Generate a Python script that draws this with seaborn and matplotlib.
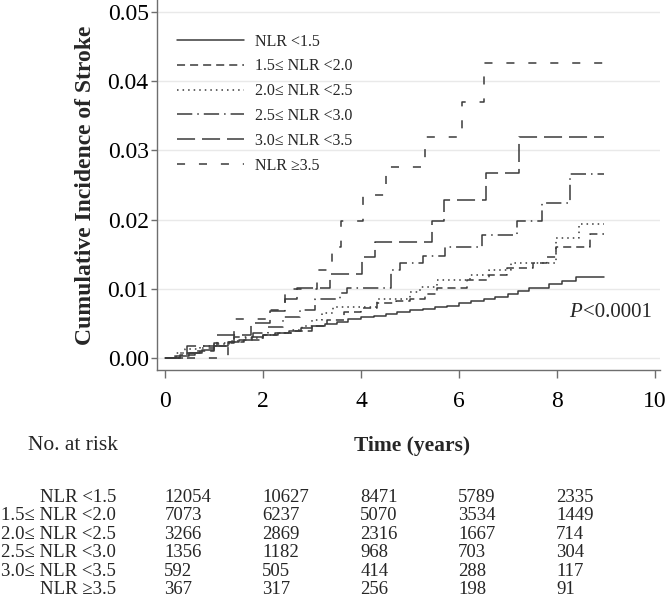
import matplotlib
matplotlib.use("Agg")
import matplotlib.pyplot as plt
import seaborn as sns
import pandas as pd

# groups and at-risk table
groups = ['NLR <1.5', '1.5≤ NLR <2.0', '2.0≤ NLR <2.5',
          '2.5≤ NLR <3.0', '3.0≤ NLR <3.5', 'NLR ≥3.5']
risk_times = [0, 2, 4, 6, 8]
risk_lt15 = [12054, 10627, 8471, 5789, 2335]
risk_15_20 = [7073, 6237, 5070, 3534, 1449]
risk_20_25 = [3266, 2869, 2316, 1667, 714]
risk_25_30 = [1356, 1182, 968, 703, 304]
risk_30_35 = [592, 505, 414, 288, 117]
risk_ge35 = [367, 317, 256, 198, 91]

# cumulative incidence step points
t_lt15 = [0, 0.22, 0.48, 0.74, 1.0, 1.27, 1.5, 1.76, 2.0, 2.24, 2.52, 2.77, 3.0, 3.26, 3.5,
          3.73, 4.0, 4.27, 4.5, 4.74, 5.0, 5.27, 5.5, 5.76, 6.0, 6.24, 6.5, 6.73, 7.0, 7.2,
          7.42, 7.83, 8.1, 8.38]
ci_lt15 = [0, 0.0003, 0.0007, 0.0012, 0.0018, 0.0023, 0.0027, 0.0030, 0.0033, 0.0036, 0.0039,
           0.0043, 0.0046, 0.0050, 0.0053, 0.0056, 0.0059, 0.0061, 0.0064, 0.0066, 0.0069,
           0.0071, 0.0074, 0.0076, 0.0079, 0.0082, 0.0086, 0.0089, 0.0093, 0.0097, 0.0102,
           0.0107, 0.0111, 0.0117]

t_15_20 = [0, 0.3, 0.6, 1.0, 1.3, 1.6, 2.0, 2.3, 2.6, 3.0, 3.3, 3.64, 4.0, 4.32, 4.7, 5.0,
           5.3, 5.55, 6.16, 6.6, 6.98, 7.5, 7.8, 7.97, 8.68]
ci_15_20 = [0, 0.0004, 0.0010, 0.0018, 0.0023, 0.0027, 0.0033, 0.0036, 0.0040, 0.0046, 0.0055,
            0.0067, 0.0073, 0.0079, 0.0083, 0.0086, 0.0093, 0.0101, 0.0113, 0.0120, 0.0130,
            0.0138, 0.0146, 0.0161, 0.0179]

t_20_25 = [0, 0.2, 0.4, 0.7, 1.0, 1.3, 1.6, 2.0, 2.3, 2.6, 2.8, 3.0, 3.2, 3.43, 4.32, 5.0,
           5.21, 5.55, 6.23, 6.6, 7.05, 7.97, 8.45]
ci_20_25 = [0, 0.0007, 0.0013, 0.0017, 0.0021, 0.0025, 0.0029, 0.0034, 0.0037, 0.0041, 0.0047,
            0.0055, 0.0065, 0.0074, 0.0086, 0.0095, 0.0103, 0.0113, 0.0120, 0.0127, 0.0138,
            0.0173, 0.0194]

t_25_30 = [0, 0.3, 0.7, 1.0, 1.4, 1.8, 2.1, 2.4, 2.75, 3.05, 3.57, 3.71, 4.6, 4.8, 5.27, 5.72,
           6.47, 7.19, 7.70, 8.27]
ci_25_30 = [0, 0.0007, 0.0015, 0.0022, 0.0030, 0.0037, 0.0045, 0.0060, 0.0070, 0.0086, 0.0094,
            0.0101, 0.0127, 0.0137, 0.0147, 0.0161, 0.0178, 0.0198, 0.0224, 0.0266]

t_30_35 = [0, 0.45, 1.05, 1.75, 2.14, 2.45, 2.69, 3.37, 4.02, 4.29, 5.45, 5.69, 6.54, 7.22]
ci_30_35 = [0, 0.0017, 0.0034, 0.0051, 0.0068, 0.0085, 0.0102, 0.0121, 0.0146, 0.0168, 0.0198,
            0.0229, 0.0268, 0.0320]

t_ge35 = [0, 1.29, 1.41, 2.14, 2.45, 3.10, 3.40, 3.59, 4.04, 4.51, 5.31, 6.05, 6.50]
ci_ge35 = [0, 0.0027, 0.0057, 0.0070, 0.0100, 0.0127, 0.0161, 0.0198, 0.0236, 0.0276, 0.0320,
           0.0370, 0.0426]

end_time = [8.95, 8.95, 8.95, 8.95, 8.95, 8.95]

curves = [(t_lt15, ci_lt15), (t_15_20, ci_15_20), (t_20_25, ci_20_25),
          (t_25_30, ci_25_30), (t_30_35, ci_30_35), (t_ge35, ci_ge35)]
risks = [risk_lt15, risk_15_20, risk_20_25, risk_25_30, risk_30_35, risk_ge35]

# long table, last value carried to the end of follow-up
rows = []
for g, (ts, cs), te in zip(groups, curves, end_time):
    for t, c in zip(ts + [te], cs + [cs[-1]]):
        rows.append({'group': g, 'time': t, 'ci': c})
df = pd.DataFrame(rows)

sns.set_theme(style='white')
plt.rcParams['font.family'] = ['Liberation Serif', 'DejaVu Serif']
plt.rcParams['lines.scale_dashes'] = False

line_col = '#3a3a3a'
axis_col = '#6e6e6e'
dash_map = {
    groups[0]: '',
    groups[1]: (5.8, 3.6),
    groups[2]: (1.1, 2.9),
    groups[3]: (11, 3.6, 1.1, 3.6),
    groups[4]: (13, 5),
    groups[5]: (5.8, 10),
}

fig = plt.figure(figsize=(6.68, 6.04), dpi=100)
ax = fig.add_axes([0.235, 0.3874, 0.753, 0.6126])

sns.lineplot(data=df, x='time', y='ci', hue='group', style='group', hue_order=groups,
             style_order=groups, palette=[line_col] * 6, dashes=dash_map,
             estimator=None, drawstyle='steps-post', linewidth=1.1, ax=ax)

ax.set_xlim(-0.17, 10.1)
ax.set_ylim(-0.0017, 0.0517)
ax.set_xticks([0, 2, 4, 6, 8, 10])
ax.set_yticks([0, 0.01, 0.02, 0.03, 0.04, 0.05])
ax.set_yticklabels(['0.00', '0.01', '0.02', '0.03', '0.04', '0.05'])
ax.yaxis.grid(True, color='#e9e9e9', linewidth=1)
ax.set_axisbelow(True)

for side in ['top', 'right']:
    ax.spines[side].set_visible(False)
for side in ['left', 'bottom']:
    ax.spines[side].set_color(axis_col)
    ax.spines[side].set_linewidth(1)
ax.tick_params(axis='y', direction='out', length=4, width=1, color=axis_col,
               labelsize=17, pad=2, left=True, labelcolor='black')
ax.tick_params(axis='x', direction='out', length=6, width=1, color=axis_col,
               labelsize=17, pad=9, bottom=True, labelcolor='black')

ax.set_xlabel('')
ax.set_ylabel('Cumulative Incidence of Stroke', fontsize=17, fontweight='bold', labelpad=8)

handles, labels = ax.get_legend_handles_labels()
ax.legend(handles, labels, loc='upper left', bbox_to_anchor=(0.011, 0.948), frameon=False,
          fontsize=11.5, handlelength=4.2, handletextpad=0.7, labelspacing=0.55)

ax.text(8.25, 0.0066, 'P', fontsize=15, style='italic', ha='left', va='center')
ax.text(8.53, 0.0066, '<0.0001', fontsize=15, ha='left', va='center')

# number at risk table below the axis
fig.text(28 / 668, 1 - 446 / 604, 'No. at risk', fontsize=15.5, ha='left', va='center')
fig.text(412 / 668, 1 - 446 / 604, 'Time (years)', fontsize=15.5, fontweight='bold',
         ha='center', va='center')
row_y = [497, 515.6, 534.2, 552.8, 571.4, 590]
for g, r, yp in zip(groups, risks, row_y):
    fig.text(116 / 668, 1 - yp / 604, g, fontsize=13.5, ha='right', va='center')
    for t, n in zip(risk_times, r):
        x_fig = fig.transFigure.inverted().transform(ax.transData.transform((t - 0.02, 0)))[0]
        fig.text(x_fig, 1 - yp / 604, str(n), fontsize=13.5, ha='left', va='center')

fig.savefig('out.png', dpi=100)
